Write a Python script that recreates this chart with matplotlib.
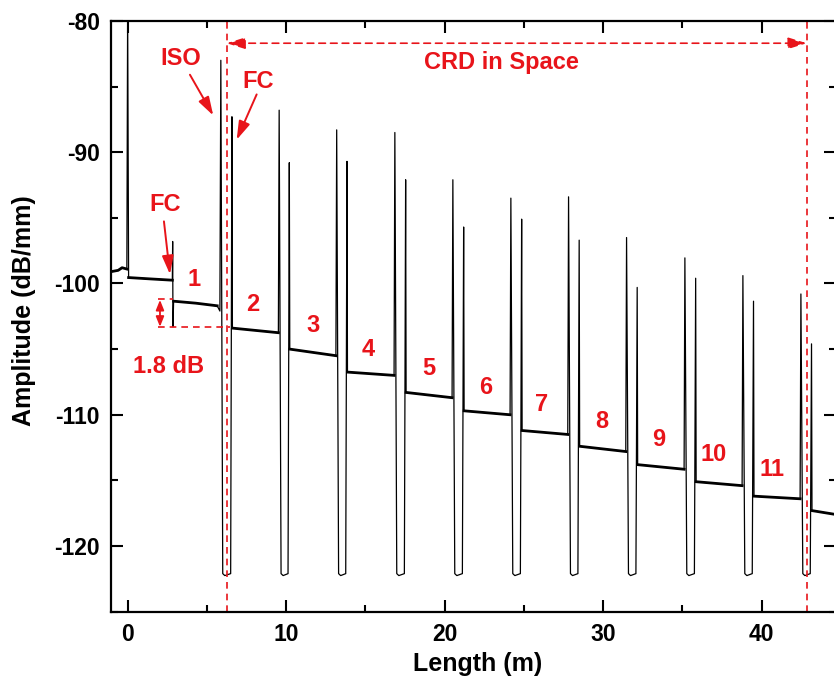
import numpy as np
import matplotlib
matplotlib.use("Agg")
import matplotlib.pyplot as plt

plt.rcParams['font.family'] = ['Liberation Sans', 'DejaVu Sans']
plt.rcParams['font.weight'] = 'bold'
plt.rcParams['axes.unicode_minus'] = False

RED = '#e8141a'

# ---- trace data ----
# lead-in, launch peak at 0 m, first FC at 2.84 m, segment 1
lead_x = [-1.05, -0.6, -0.35, -0.05, 0.0, 0.06, 1.4, 2.82, 2.84, 2.86, 2.9, 4.3, 5.65, 5.82]
lead_y = [-99.1, -99.0, -98.8, -98.9, -79.0, -99.55, -99.65, -99.75, -96.8, -103.3, -101.35, -101.5, -101.7, -102.1]

# each sensing section: first peak, dip to the floor, second peak, next plateau
peak1_x = [5.88, 9.56, 13.19, 16.86, 20.52, 24.18, 27.82, 31.48, 35.16, 38.82, 42.48]
peak1_top = [-83.0, -86.8, -88.3, -88.5, -92.1, -93.5, -93.4, -96.5, -98.05, -99.4, -100.8]
peak2_x = [6.58, 10.20, 13.84, 17.54, 21.20, 24.86, 28.49, 32.15, 35.84, 39.49, 43.15]
peak2_top = [-87.3, -90.8, -90.7, -92.1, -95.7, -95.1, -96.7, -100.3, -99.6, -101.35, -104.6]
floor_level = -122.1

# plateau after each second peak (start / end level)
seg_start = [-103.4, -105.0, -106.75, -108.3, -109.7, -111.2, -112.4, -113.8, -115.1, -116.2, -117.3]
seg_end = [-103.75, -105.5, -107.0, -108.7, -110.0, -111.5, -112.8, -114.15, -115.4, -116.4, -117.6]
x_end = 44.7

# segment labels
seg_labels = ['1', '2', '3', '4', '5', '6', '7', '8', '9', '10', '11']
label_x = [4.2, 7.92, 11.7, 15.2, 19.0, 22.6, 26.1, 29.9, 33.5, 37.0, 40.67]
label_y = [-99.7, -101.6, -103.2, -105.05, -106.5, -107.9, -109.25, -110.5, -111.9, -113.0, -114.15]

crd_left, crd_right = 6.25, 42.84

# build the trace
xs = list(lead_x)
ys = list(lead_y)
plat_x, plat_y = [], []
for i in range(len(peak1_x)):
    nxt = peak1_x[i + 1] - 0.05 if i + 1 < len(peak1_x) else x_end
    xs += [peak1_x[i], peak1_x[i] + 0.12, peak1_x[i] + 0.25, peak2_x[i] - 0.08,
           peak2_x[i], peak2_x[i] + 0.03, nxt]
    ys += [peak1_top[i], floor_level, floor_level - 0.15, floor_level,
           peak2_top[i], seg_start[i], seg_end[i]]
    plat_x.append([peak2_x[i] + 0.03, nxt])
    plat_y.append([seg_start[i], seg_end[i]])

fig = plt.figure(figsize=(8.34, 6.83), dpi=100)
ax = fig.add_axes([0.1331, 0.1044, 0.8694, 0.8650])

ax.plot(xs, ys, color='black', lw=0.9)
for px, py in zip(plat_x, plat_y):
    ax.plot(px, py, color='black', lw=2.0)
ax.plot(lead_x[5:8], lead_y[5:8], color='black', lw=2.0)
ax.plot(lead_x[10:13], lead_y[10:13], color='black', lw=2.0)
ax.plot(lead_x[:4], lead_y[:4], color='black', lw=2.0)

ax.set_xlim(-1.05, 44.7)
ax.set_ylim(-125, -80)
ax.set_xticks([0, 10, 20, 30, 40])
ax.set_xticks(np.arange(5, 45, 10), minor=True)
ax.set_yticks([-120, -110, -100, -90, -80])
ax.set_yticks([-125, -115, -105, -95, -85], minor=True)
ax.tick_params(which='both', direction='in', top=True, right=True, width=1.5,
               labelsize=16.5, pad=8)
ax.tick_params(which='major', length=8.5)
ax.tick_params(which='minor', length=5)
for s in ax.spines.values():
    s.set_linewidth(1.6)

ax.set_xlabel('Length (m)', fontsize=18, fontweight='bold')
ax.set_ylabel('Amplitude (dB/mm)', fontsize=18, fontweight='bold')
ax.xaxis.set_label_coords(0.505, -0.069)
ax.yaxis.set_label_coords(-0.104, 0.51)

# CRD region
ax.axvline(crd_left, color=RED, ls=(0, (4, 3)), lw=1.2)
ax.axvline(crd_right, color=RED, ls=(0, (4, 3)), lw=1.2)
ax.annotate('', xy=(crd_left, -81.7), xytext=(crd_right, -81.7),
            arrowprops=dict(arrowstyle='<|-|>,head_length=0.8,head_width=0.25',
                            color=RED, lw=1.2, ls=(0, (4, 3)), shrinkA=0, shrinkB=0,
                            mutation_scale=14))
ax.text(23.6, -83.2, 'CRD in Space', color=RED, fontsize=17, fontweight='bold',
        ha='center', va='center')

arrow = dict(arrowstyle='-|>,head_length=0.8,head_width=0.25', color=RED, lw=1.4,
             shrinkA=0, shrinkB=0, mutation_scale=14)
ax.text(3.38, -82.85, 'ISO', color=RED, fontsize=17, fontweight='bold', ha='center', va='center')
ax.annotate('', xy=(5.4, -87.2), xytext=(3.93, -84.1), arrowprops=arrow)
ax.text(8.24, -84.6, 'FC', color=RED, fontsize=17, fontweight='bold', ha='center', va='center')
ax.annotate('', xy=(6.88, -89.05), xytext=(8.14, -85.6), arrowprops=arrow)
ax.text(2.35, -94.0, 'FC', color=RED, fontsize=17, fontweight='bold', ha='center', va='center')
ax.annotate('', xy=(2.67, -99.3), xytext=(2.29, -95.27), arrowprops=arrow)

# 1.8 dB step
ax.plot([1.9, 2.84], [-101.2, -101.2], color=RED, ls=(0, (4, 3)), lw=1.2)
ax.plot([1.93, 6.45], [-103.35, -103.35], color=RED, ls=(0, (4, 3)), lw=1.2)
ax.annotate('', xy=(2.04, -101.25), xytext=(2.04, -103.3),
            arrowprops=dict(arrowstyle='<|-|>,head_length=0.5,head_width=0.2', color=RED,
                            lw=1.3, shrinkA=0, shrinkB=0, mutation_scale=12))
ax.text(2.56, -106.3, '1.8 dB', color=RED, fontsize=17, fontweight='bold', ha='center', va='center')

for t, lx, ly in zip(seg_labels, label_x, label_y):
    ax.text(lx, ly, t, color=RED, fontsize=17, fontweight='bold', ha='center', va='center')

fig.savefig('out.png', dpi=100)
